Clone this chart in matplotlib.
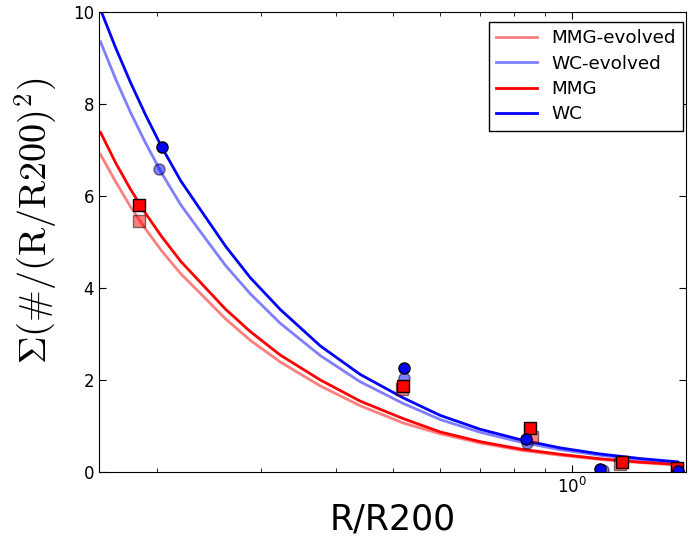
import numpy as np
import matplotlib
matplotlib.use('Agg')
import matplotlib.pyplot as plt
from matplotlib.ticker import NullFormatter

plt.rcParams['mathtext.fontset'] = 'cm'
plt.rcParams['xtick.direction'] = 'in'
plt.rcParams['ytick.direction'] = 'in'
plt.rcParams['xtick.top'] = True
plt.rcParams['ytick.right'] = True

# Curvas ajustadas
r_fit = [0.1609, 0.1706, 0.1808, 0.1916, 0.2038, 0.2195, 0.2370, 0.2611, 0.2876, 0.3230,
         0.3771, 0.4402, 0.5200, 0.6002, 0.7003, 0.8176, 0.9546, 1.1144, 1.301, 1.507]
mmg_evo_fit = [6.90, 6.31, 5.76, 5.28, 4.81, 4.31, 3.88, 3.33, 2.86, 2.39,
               1.87, 1.44, 1.065, 0.83, 0.63, 0.476, 0.365, 0.273, 0.204, 0.15]
wc_evo_fit = [9.35, 8.54, 7.81, 7.15, 6.50, 5.81, 5.22, 4.49, 3.87, 3.23,
              2.53, 1.96, 1.49, 1.14, 0.864, 0.653, 0.485, 0.363, 0.271, 0.20]
mmg_fit = [7.38, 6.72, 6.14, 5.62, 5.12, 4.58, 4.12, 3.54, 3.05, 2.54,
           2.00, 1.54, 1.16, 0.87, 0.66, 0.50, 0.385, 0.288, 0.215, 0.165]
wc_fit = [10.05, 9.22, 8.46, 7.76, 7.07, 6.33, 5.70, 4.91, 4.22, 3.53,
          2.74, 2.12, 1.61, 1.23, 0.93, 0.705, 0.525, 0.392, 0.293, 0.22]

# Pontos medidos
mmg_evo_r = [0.1866, 0.518, 0.857, 1.204, 1.50]
mmg_evo_s = [5.46, 1.80, 0.77, 0.18, 0.06]
mmg_r = [0.1866, 0.520, 0.850, 1.213, 1.50]
mmg_s = [5.80, 1.87, 0.96, 0.21, 0.08]
wc_evo_r = [0.202, 0.522, 0.840, 1.127, 1.51]
wc_evo_s = [6.59, 2.04, 0.63, 0.05, 0.01]
wc_r = [0.204, 0.522, 0.837, 1.115, 1.51]
wc_s = [7.07, 2.26, 0.72, 0.06, 0.02]

fig = plt.figure(figsize=(6.88, 5.39), dpi=100)
ax = fig.add_axes([0.144, 0.1243, 0.853, 0.8537])

ax.plot(r_fit, mmg_evo_fit, color='red', alpha=0.5, lw=2, label='MMG-evolved')
ax.plot(r_fit, wc_evo_fit, color='blue', alpha=0.5, lw=2, label='WC-evolved')
ax.plot(r_fit, mmg_fit, color='red', lw=2, label='MMG')
ax.plot(r_fit, wc_fit, color='blue', lw=2, label='WC')

ax.plot(mmg_evo_r, mmg_evo_s, 's', color='red', mec='k', ms=8, alpha=0.5)
ax.plot(wc_evo_r, wc_evo_s, 'o', color='blue', mec='k', ms=8, alpha=0.5)
ax.plot(mmg_r, mmg_s, 's', color='red', mec='k', ms=8)
ax.plot(wc_r, wc_s, 'o', color='blue', mec='k', ms=8)

ax.set_xscale('log')
ax.set_xlim(0.16, 1.555)
ax.set_ylim(0, 10)
ax.xaxis.set_minor_formatter(NullFormatter())
ax.tick_params(which='major', length=5, labelsize=12)
ax.tick_params(which='minor', length=3)
ax.set_xlabel('R/R200', fontsize=25)
ax.set_ylabel(r'$\Sigma(\#/(\mathrm{R/R200})^2)$', fontsize=27.5)
ax.yaxis.set_label_coords(-0.066, 0.546)

leg = ax.legend(loc='upper right', bbox_to_anchor=(0.995, 0.978), borderaxespad=0,
                fontsize=13.2, fancybox=False, framealpha=1, edgecolor='k',
                handlelength=2.2, borderpad=0.4, labelspacing=0.4)
leg.get_frame().set_linewidth(1)

fig.savefig('out.png', dpi=100)
